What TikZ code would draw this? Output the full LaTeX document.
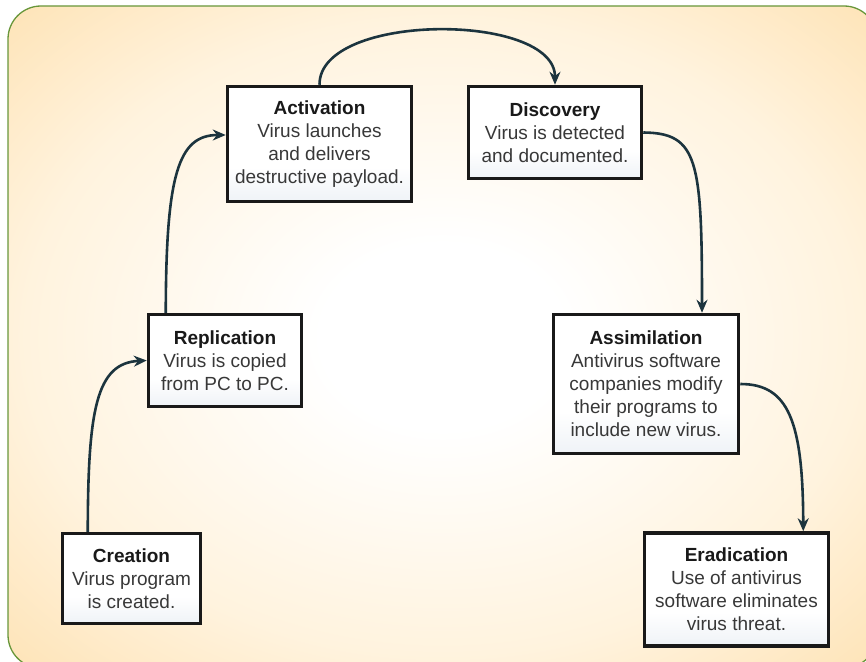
\documentclass[tikz,border=0pt]{standalone}
\usepackage{fontspec}
\setmainfont{Liberation Sans}
\usetikzlibrary{arrows.meta}
\definecolor{bgorange}{RGB}{252,198,120}
\definecolor{bglight}{RGB}{254,224,174}
\definecolor{bgcream}{RGB}{255,243,222}
\definecolor{rimgreen}{RGB}{104,150,58}
\definecolor{boxblue}{RGB}{212,222,233}
\definecolor{flowink}{RGB}{28,52,62}
\pgfdeclareradialshading{glow}{\pgfpoint{0bp}{0bp}}{color(0bp)=(white); color(7bp)=(white); color(24bp)=(bgcream); color(38bp)=(bglight); color(50bp)=(bgorange); color(72bp)=(bgorange)}
\pgfdeclareverticalshading{boxfade}{100bp}{color(0bp)=(boxblue); color(40bp)=(white); color(100bp)=(white)}
\newcommand{\stagename}[1]{\textbf{\color{black!90}#1}}

\begin{document}
\begin{tikzpicture}[x=1pt, y=-1pt,
    stage/.style={draw=black!90, line width=3.5pt, shade, shading=boxfade, align=center, font=\fontsize{19}{23}\selectfont, text=black!78, inner sep=0pt},
    flow/.style={draw=flowink, line width=2.6pt, -{Stealth[length=13pt,width=11pt]}}
]
    \useasboundingbox (0,0) rectangle (866,661);
    \begin{scope}
        \clip (0,0) rectangle (866,661);
        \shadedraw[draw=rimgreen, line width=1.3pt, shading=glow, rounded corners=33pt] (8,6) rectangle (877,668);
    \end{scope}
    \node[stage, minimum width=138, minimum height=90] (creation) at (131.5,578.5) {\stagename{Creation}\\Virus program\\is created.};
    \node[stage, minimum width=153, minimum height=92] (replication) at (225,360.5) {\stagename{Replication}\\Virus is copied\\from PC to PC.};
    \node[stage, minimum width=184, minimum height=115] (activation) at (319.5,144) {\stagename{Activation}\\Virus launches\\and delivers\\destructive payload.};
    \node[stage, minimum width=173, minimum height=92] (discovery) at (555,132.5) {\stagename{Discovery}\\Virus is detected\\and documented.};
    \node[stage, minimum width=185, minimum height=139] (assimilation) at (646,384) {\stagename{Assimilation}\\Antivirus software\\companies modify\\their programs to\\include new virus.};
    \node[stage, minimum width=184, minimum height=113] (eradication) at (736.5,589.5) {\stagename{Eradication}\\Use of antivirus\\software eliminates\\virus threat.};
    \draw[flow] ([xshift=27pt]creation.north west) .. controls (88,410) and (96,363) .. (replication.west);
    \draw[flow] ([xshift=19pt]replication.north west) .. controls (166,175) and (178,135) .. ([yshift=9pt]activation.west);
    \draw[flow] (activation.north) .. controls (319,12) and (555,12) .. (discovery.north);
    \draw[flow] (discovery.east) .. controls (698,133) and (702,160) .. ([xshift=56pt]assimilation.north);
    \draw[flow] (assimilation.east) .. controls (788,384) and (803,420) .. ([xshift=-27pt]eradication.north east);
\end{tikzpicture}
\end{document}
